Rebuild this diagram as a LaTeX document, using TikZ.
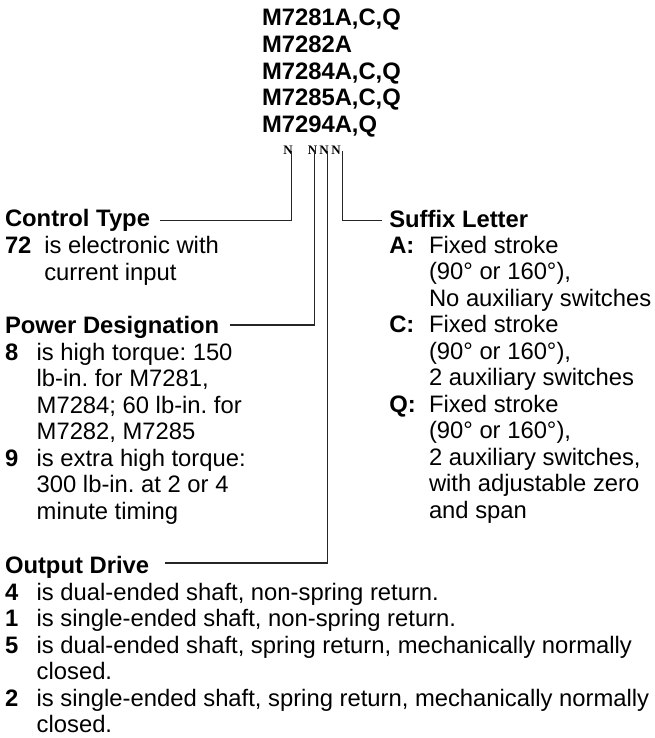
\documentclass[tikz,border=0pt]{standalone}
\usepackage{fontspec}
\setmainfont{Liberation Sans}
\newfontfamily\nfont{Liberation Serif}
\frenchspacing
\begin{document}
\begin{tikzpicture}[x=1bp,y=-1bp,
 txt/.style={anchor=base west,inner sep=0pt,outer sep=0pt,font=\fontsize{23.8bp}{26.5bp}\selectfont},
 hd/.style={anchor=base west,inner sep=0pt,outer sep=0pt,font=\fontsize{23.8bp}{26.5bp}\selectfont\bfseries},
 nn/.style={anchor=base,inner sep=0pt,outer sep=0pt,font=\fontsize{13bp}{14bp}\nfont\bfseries},
 conn/.style={line width=1.1bp,draw=black!85}]
\useasboundingbox (0,0) rectangle (655,738);
% header
\node[hd] (m1) at (262,26) {M7281A,C,Q};
\node[hd] (m2) at (262,52.5) {M7282A};
\node[hd] (m3) at (262,79) {M7284A,C,Q};
\node[hd] (m4) at (262,105.5) {M7285A,C,Q};
\node[hd] (m5) at (262,132) {M7294A,Q};
\node[nn] (n1) at (288,154) {N};
\node[nn] (n2) at (312.5,154) {N};
\node[nn] (n3) at (324,154) {N};
\node[nn] (n4) at (336,154) {N};
% left column
\node[hd] (ct) at (5,226) {Control Type};
\node[hd] (ct1) at (5,253) {72};
\node[txt] (ct1t) at (44.3,253) {is electronic with};
\node[txt] (ct2t) at (44.3,280) {current input};
\node[hd] (pd) at (5,333) {Power Designation};
\node[hd] (pd1) at (5,360) {8};
\node[txt] (pd1t) at (36.7,360) {is high torque: 150};
\node[txt] (pd2t) at (36.7,386.5) {lb-in. for M7281,};
\node[txt] (pd3t) at (36.7,413) {M7284; 60 lb-in. for};
\node[txt] (pd4t) at (36.7,439.5) {M7282, M7285};
\node[hd] (pd5) at (5,466) {9};
\node[txt] (pd5t) at (36.7,466) {is extra high torque:};
\node[txt] (pd6t) at (36.7,492.5) {300 lb-in. at 2 or 4};
\node[txt] (pd7t) at (36.7,519) {minute timing};
\node[hd] (od) at (5,573) {Output Drive};
\node[hd] (od1) at (5,600) {4};
\node[txt] (od1t) at (36.7,600) {is dual-ended shaft, non-spring return.};
\node[hd] (od2) at (5,626.5) {1};
\node[txt] (od2t) at (36.7,626.5) {is single-ended shaft, non-spring return.};
\node[hd] (od3) at (5,653) {5};
\node[txt] (od3t) at (36.7,653) {is dual-ended shaft, spring return, mechanically normally};
\node[txt] (od4t) at (36.7,679.5) {closed.};
\node[hd] (od5) at (5,706) {2};
\node[txt] (od5t) at (36.7,706) {is single-ended shaft, spring return, mechanically normally};
\node[txt] (od6t) at (36.7,732.5) {closed.};
% right column
\node[hd] (sl) at (389.3,227) {Suffix Letter};
\node[hd] (sa) at (389.3,253) {A:};
\node[txt] (sa1) at (429,253) {Fixed stroke};
\node[txt] (sa2) at (429,279.5) {(90° or 160°),};
\node[txt] (sa3) at (429,306) {No auxiliary switches};
\node[hd] (sc) at (389.3,332.5) {C:};
\node[txt] (sc1) at (429,332.5) {Fixed stroke};
\node[txt] (sc2) at (429,359) {(90° or 160°),};
\node[txt] (sc3) at (429,385.5) {2 auxiliary switches};
\node[hd] (sq) at (389.3,412) {Q:};
\node[txt] (sq1) at (429,412) {Fixed stroke};
\node[txt] (sq2) at (429,438.5) {(90° or 160°),};
\node[txt] (sq3) at (429,465) {2 auxiliary switches,};
\node[txt] (sq4) at (429,491.5) {with adjustable zero};
\node[txt] (sq5) at (429,518) {and span};
% connectors
\coordinate (t1) at (291.7,151);
\coordinate (t2) at (314.3,151);
\coordinate (t3) at (327.7,151);
\coordinate (t4) at (342.7,151);
\coordinate (h1) at (160,220.7);
\coordinate (h2) at (230,325);
\coordinate (h3) at (165,563);
\coordinate (h4) at (381.7,220.7);
\draw[conn] (h1) -| (t1);
\draw[conn] (h2) -| (t2);
\draw[conn] (h3) -| (t3);
\draw[conn] (h4) -| (t4);
\end{tikzpicture}
\end{document}
